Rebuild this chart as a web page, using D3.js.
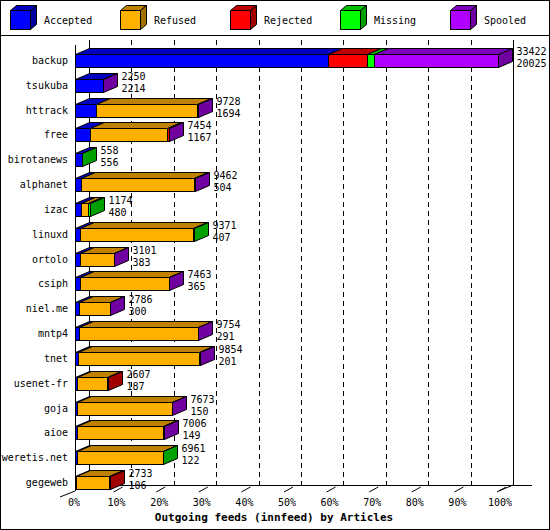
<!DOCTYPE html>
<html lang="en">
<head>
<meta charset="UTF-8">
<title>Outgoing feeds</title>
<style>
  body { margin: 0; background: #fff; }
  text { font-family: "DejaVu Sans Mono", monospace; font-size: 10px; fill: #000; }
</style>
</head>
<body>
<svg width="550" height="530"></svg>
<script src="https://cdn.jsdelivr.net/npm/d3@7"></script>
<script>
const feeds = ["backup","tsukuba","httrack","free","birotanews","alphanet","izac","linuxd","ortolo","csiph","niel.me","mntp4","tnet","usenet-fr","goja","aioe","weretis.net","gegeweb"];
const offered  = [33422,2250,9728,7454,558,9462,1174,9371,3101,7463,2786,9754,9854,2607,7673,7006,6961,2733];
const accepted = [20025,2214,1694,1167,556,504,480,407,383,365,300,291,201,187,150,149,122,106];
const refused  = [0,0,7970,6100,0,8900,580,8900,2700,7050,2460,9400,9600,2380,7480,6820,6800,2590];
const rejected = [3070,0,0,180,0,20,0,0,0,0,0,0,0,40,0,0,0,37];
const missing  = [500,0,0,0,2,0,114,64,0,0,0,0,0,0,0,0,39,0];
const spooled  = [9827,36,64,7,0,38,0,0,18,48,26,63,53,0,43,37,0,0];
const seriesNames = ["Accepted","Refused","Rejected","Missing","Spooled"];
const seriesVals = [accepted, refused, rejected, missing, spooled];
const front = ["#0000ff","#ffb000","#ff0000","#00ff00","#b000ff"];
const top_ = ["#0000c0","#c08000","#c00000","#00c000","#8000c0"];
const side = ["#0000a0","#a07000","#a00000","#00a000","#7000a0"];
const ticks = d3.range(0, 101, 10);

const svg = d3.select("svg");
const dx = 14, dy = 6, bh = 13;

svg.append("rect").attr("x",0.5).attr("y",0.5).attr("width",549).attr("height",529)
  .attr("fill","none").attr("stroke","#000");
svg.append("line").attr("x1",0).attr("x2",550).attr("y1",35.5).attr("y2",35.5).attr("stroke","#000");

// legend
const leg = svg.append("g").selectAll("g").data(seriesNames).enter().append("g")
  .attr("transform", (d,i) => `translate(${10 + i*110},0)`);
function box(g, x, y, w, h, i, d1, d2) {
  g.append("path").attr("d",`M${x},${y}h${w}l${d1},${-d2}h${-w}z`).attr("fill",top_[i]).attr("stroke","#000");
  g.append("path").attr("d",`M${x+w},${y}l${d1},${-d2}v${h}l${-d1},${d2}z`).attr("fill",side[i]).attr("stroke","#000");
  g.append("rect").attr("x",x).attr("y",y).attr("width",w).attr("height",h).attr("fill",front[i]).attr("stroke","#000");
}
leg.each(function(d,i){ box(d3.select(this), 0.5, 10.5, 20, 19, i, 6, 5); });
leg.append("text").attr("x",34).attr("y",24).text(d => d);

const x = d3.scaleLinear().domain([0, d3.max(offered)]).range([75, 498]);
const y = d3.scalePoint().domain(feeds).range([60, 482]);

// back wall
const gx = d3.scaleLinear().domain([0,100]).range([89, 513]);
svg.append("line").attr("x1",89.5).attr("x2",89.5).attr("y1",40).attr("y2",485).attr("stroke","#000");
svg.append("line").attr("x1",513.5).attr("x2",513.5).attr("y1",40).attr("y2",485).attr("stroke","#000");
svg.selectAll(".grid").data(ticks.slice(1,-1)).enter().append("line")
  .attr("x1",d=>Math.round(gx(d))+0.5).attr("x2",d=>Math.round(gx(d))+0.5)
  .attr("y1",40).attr("y2",485).attr("stroke","#000").attr("stroke-dasharray","5,4");
svg.append("line").attr("x1",89).attr("x2",532).attr("y1",485.5).attr("y2",485.5).attr("stroke","#000");
svg.append("line").attr("x1",75.5).attr("x2",75.5).attr("y1",45).attr("y2",491).attr("stroke","#000");
svg.append("line").attr("x1",60).attr("y1",497).attr("x2",75).attr("y2",491).attr("stroke","#000");
svg.append("line").attr("x1",499).attr("y1",491).attr("x2",513).attr("y2",485).attr("stroke","#000");

const ax = d3.scaleLinear().domain([0,100]).range([74, 500]);
svg.selectAll(".tk").data(ticks.slice(1)).enter().append("line")
  .attr("x1",d=>ax(d)-3).attr("y1",492).attr("x2",d=>ax(d)+6).attr("y2",487).attr("stroke","#000");
svg.selectAll(".tl").data(ticks).enter().append("text")
  .attr("x",d=>ax(d)).attr("y",506).attr("text-anchor","middle").text(d => d + "%");
svg.append("text").attr("x",274).attr("y",521).attr("text-anchor","middle")
  .style("font-weight","bold").style("font-size","11px").text("Outgoing feeds (innfeed) by Articles");

// bars
feeds.forEach((f, r) => {
  const g = svg.append("g");
  const yc = Math.round(y(f));
  const y0 = yc - 6 + 0.5;
  let acc = 0, last = 0;
  const segs = [];
  seriesVals.forEach((s, i) => {
    if (s[r] > 0) { segs.push({i, a: acc, b: acc + s[r]}); acc += s[r]; last = i; }
  });
  segs.forEach(s => {
    const xa = Math.round(x(s.a)) + 0.5, xb = Math.round(x(s.b)) + 0.5;
    g.append("path").attr("d",`M${xa},${y0}L${xa+dx},${y0-dy}L${xb+dx},${y0-dy}L${xb},${y0}Z`)
      .attr("fill",top_[s.i]).attr("stroke","#000");
    g.append("rect").attr("x",xa).attr("y",y0).attr("width",xb-xa).attr("height",bh)
      .attr("fill",front[s.i]).attr("stroke","#000");
  });
  const xe = Math.round(x(acc)) + 0.5;
  g.append("path").attr("d",`M${xe},${y0}l${dx},${-dy}v${bh}l${-dx},${dy}z`)
    .attr("fill",side[last]).attr("stroke","#000");
  g.append("text").attr("x",68).attr("y",yc+4).attr("text-anchor","end").text(f);
  g.append("text").attr("x",xe+dx+4).attr("y",yc-5).text(offered[r]);
  g.append("text").attr("x",xe+dx+4).attr("y",yc+7).text(accepted[r]);
});
</script>
</body>
</html>
